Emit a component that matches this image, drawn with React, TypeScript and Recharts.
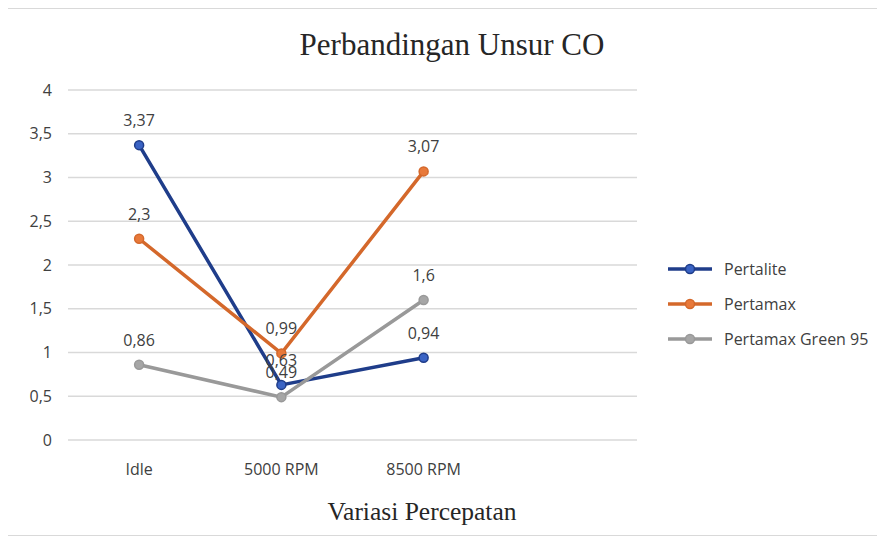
import React from 'react';
import { LineChart, Line, XAxis, YAxis, CartesianGrid, Legend, LabelList } from 'recharts';

const categories = ['Idle', '5000 RPM', '8500 RPM', ''];
const pertalite = [3.37, 0.63, 0.94, null];
const pertamax = [2.3, 0.99, 3.07, null];
const pertamaxGreen = [0.86, 0.49, 1.6, null];
const yTicks = [0, 0.5, 1, 1.5, 2, 2.5, 3, 3.5, 4];

const seriesList = [
  { key: 'pertalite', name: 'Pertalite', values: pertalite, stroke: '#1f3d8a', fill: '#3a63c4' },
  { key: 'pertamax', name: 'Pertamax', values: pertamax, stroke: '#d4682b', fill: '#e8793a' },
  { key: 'green', name: 'Pertamax Green 95', values: pertamaxGreen, stroke: '#999999', fill: '#a6a6a6' },
];

const data = categories.map((cat, i) => {
  const row: Record<string, string | number | null> = { cat };
  seriesList.forEach((s) => {
    row[s.key] = s.values[i];
  });
  return row;
});

const comma = (v: any) => (v == null || v === '' ? '' : String(v).replace('.', ','));

const FONT = '"Open Sans", sans-serif';
const SERIF = '"Liberation Serif", "Times New Roman", serif';

const LegendBox = () => (
  <div style={{ fontFamily: FONT, fontSize: 16, color: '#404040' }}>
    {seriesList.map((s) => (
      <div key={s.key} style={{ height: 35, display: 'flex', alignItems: 'center' }}>
        <svg width={50} height={12} style={{ marginRight: 6 }}>
          <line x1={0} y1={6} x2={44} y2={6} stroke={s.stroke} strokeWidth={3.5} />
          <circle cx={22} cy={6} r={4.5} fill={s.fill} stroke={s.stroke} strokeWidth={1.5} />
        </svg>
        <span>{s.name}</span>
      </div>
    ))}
  </div>
);

export default function App() {
  return (
    <div
      style={{
        position: 'relative',
        left: -2,
        width: 878,
        height: 526,
        borderTop: '1px solid #d9d9d9',
        borderLeft: '1px solid #d9d9d9',
        borderBottom: '1px solid #d9d9d9',
        background: '#fff',
      }}
    >
      <LineChart width={878} height={526} data={data} margin={{ top: 81, right: 33, bottom: 65, left: 21 }}>
        <CartesianGrid vertical={false} stroke="#d9d9d9" strokeWidth={1.5} />
        <XAxis
          dataKey="cat"
          scale="band"
          axisLine={false}
          tickLine={false}
          tickMargin={18}
          interval={0}
          tick={{ fill: '#404040', fontSize: 16, fontFamily: FONT }}
        />
        <YAxis
          width={40}
          domain={[0, 4]}
          ticks={yTicks}
          axisLine={false}
          tickLine={false}
          tickMargin={10}
          tickFormatter={comma}
          tick={{ fill: '#404040', fontSize: 16, fontFamily: FONT }}
        />
        <Legend
          layout="vertical"
          align="right"
          verticalAlign="top"
          content={() => <LegendBox />}
          wrapperStyle={{ left: 661, top: 242, width: 215 }}
        />
        {seriesList.map((s) => (
          <Line
            key={s.key}
            type="linear"
            dataKey={s.key}
            name={s.name}
            stroke={s.stroke}
            strokeWidth={3.5}
            dot={{ r: 4.5, fill: s.fill, stroke: s.stroke, strokeWidth: 1.5 }}
            isAnimationActive={false}
          >
            <LabelList
              dataKey={s.key}
              position="top"
              offset={19}
              formatter={comma}
              style={{ fill: '#404040', fontSize: 16, fontFamily: FONT }}
            />
          </Line>
        ))}
        <text x={445} y={46} textAnchor="middle" fontFamily={SERIF} fontSize={31} fill="#262626">
          Perbandingan Unsur CO
        </text>
        <text x={415} y={511} textAnchor="middle" fontFamily={SERIF} fontSize={25.5} fill="#262626">
          Variasi Percepatan
        </text>
      </LineChart>
    </div>
  );
}
